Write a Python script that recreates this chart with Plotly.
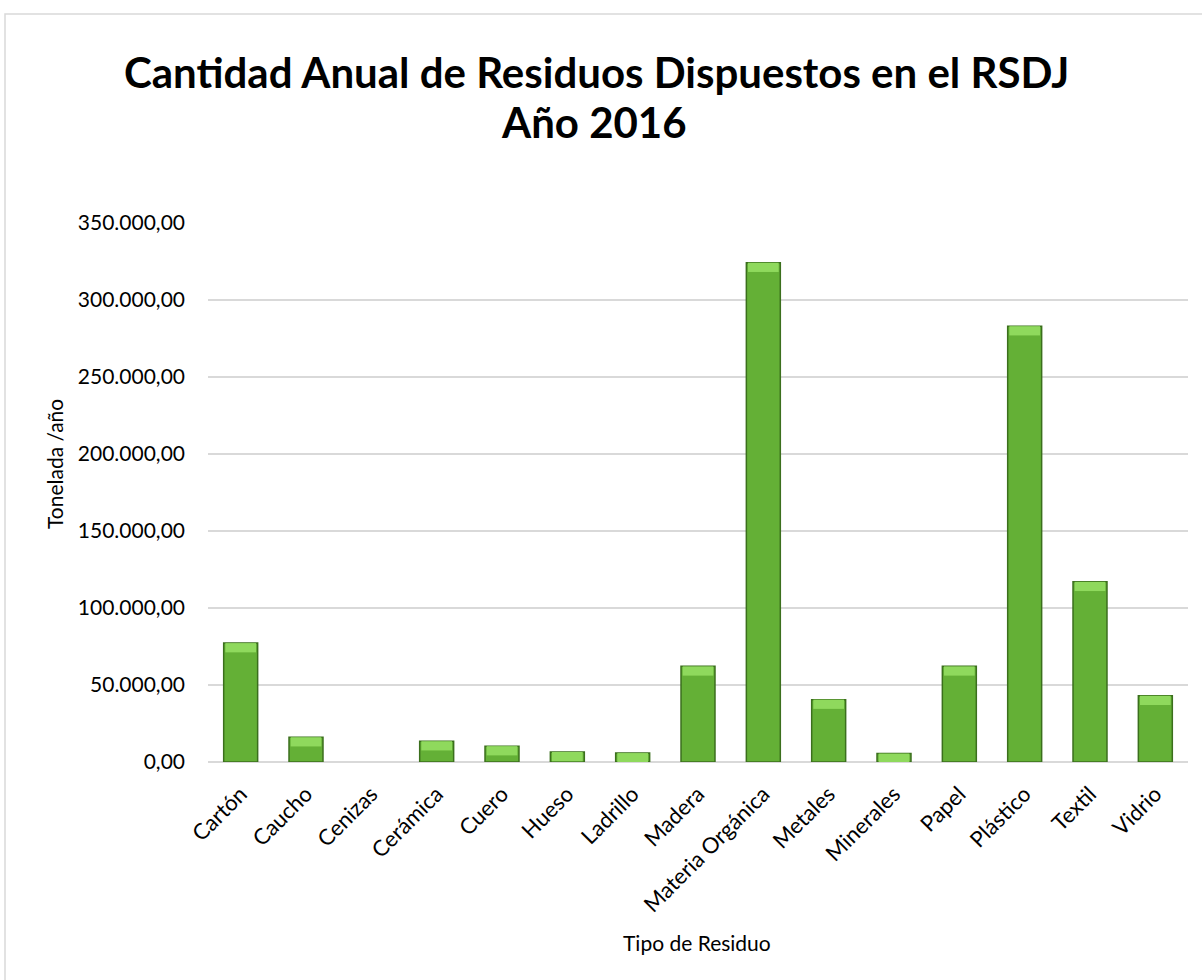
import plotly.graph_objects as go

# Residue categories and yearly tonnage
categorias = ["Cartón", "Caucho", "Cenizas", "Cerámica", "Cuero", "Hueso", "Ladrillo",
              "Madera", "Materia Orgánica", "Metales", "Minerales", "Papel",
              "Plástico", "Textil", "Vidrio"]
toneladas = [77200, 16100, 0, 13500, 10300, 6500, 5800,
             62100, 324200, 40500, 5500, 62100,
             283000, 117000, 43000]

tick_vals = [0, 50000, 100000, 150000, 200000, 250000, 300000, 350000]
tick_text = ["0,00", "50.000,00", "100.000,00", "150.000,00", "200.000,00",
             "250.000,00", "300.000,00", "350.000,00"]

W, H = 1202, 980
L, R, T, B = 208, 14, 223, 218
pw, ph = W - L - R, H - T - B

def px(x):
    return (x - L) / pw

def py(y):
    return (H - B - y) / ph

# Bevel highlight band on top of each bar
bevel = 6000
base_hl = [max(0, v - bevel) for v in toneladas]
hl = [v - b for v, b in zip(toneladas, base_hl)]
edge_w = [1.5 if v > 0 else 0 for v in toneladas]

fig = go.Figure()
fig.add_trace(go.Bar(
    x=categorias, y=toneladas,
    marker=dict(color="#64b036", line=dict(color="#3b6f1d", width=edge_w)),
    width=0.52,
))
fig.add_trace(go.Bar(
    x=categorias, y=hl, base=base_hl,
    marker=dict(color="#8fd95d", line=dict(color="#3b6f1d", width=0)),
    width=0.47,
))

fig.update_layout(
    width=W, height=H,
    margin=dict(l=L, r=R, t=T, b=B),
    paper_bgcolor="white", plot_bgcolor="white",
    barmode="overlay", showlegend=False,
    font=dict(family="Lato, sans-serif", color="#000000"),
    xaxis=dict(
        tickangle=-45, tickfont=dict(size=22, color="#000000"),
        showgrid=False, showline=False, ticks="", ticklabelstandoff=14,
    ),
    yaxis=dict(
        range=[0, 350000], tickvals=tick_vals, ticktext=tick_text,
        tickfont=dict(size=21, color="#000000"),
        showgrid=True, gridcolor="#d9d9d9", gridwidth=1.5,
        zeroline=True, zerolinecolor="#d9d9d9", zerolinewidth=1.5,
        showline=False, ticks="", ticklabelstandoff=22,
    ),
    annotations=[
        dict(text="<b>Cantidad Anual de Residuos Dispuestos en el RSDJ</b>",
             xref="paper", yref="paper", x=px(596), y=py(72),
             showarrow=False, font=dict(size=42, color="#000000"),
             xanchor="center", yanchor="middle"),
        dict(text="<b>Año 2016</b>",
             xref="paper", yref="paper", x=px(594), y=py(122),
             showarrow=False, font=dict(size=42, color="#000000"),
             xanchor="center", yanchor="middle"),
        dict(text="Tonelada /año", xref="paper", yref="paper",
             x=px(54), y=py(464), textangle=-90, showarrow=False,
             font=dict(size=21, color="#000000"),
             xanchor="center", yanchor="middle"),
        dict(text="Tipo de Residuo", xref="paper", yref="paper",
             x=px(697), y=py(942), showarrow=False,
             font=dict(size=21, color="#000000"),
             xanchor="center", yanchor="middle"),
    ],
    shapes=[
        dict(type="rect", xref="paper", yref="paper",
             x0=px(5), x1=px(1215), y0=py(995), y1=py(14),
             line=dict(color="#d9d9d9", width=1.5), layer="below"),
    ],
)

fig.write_html("out.html")
